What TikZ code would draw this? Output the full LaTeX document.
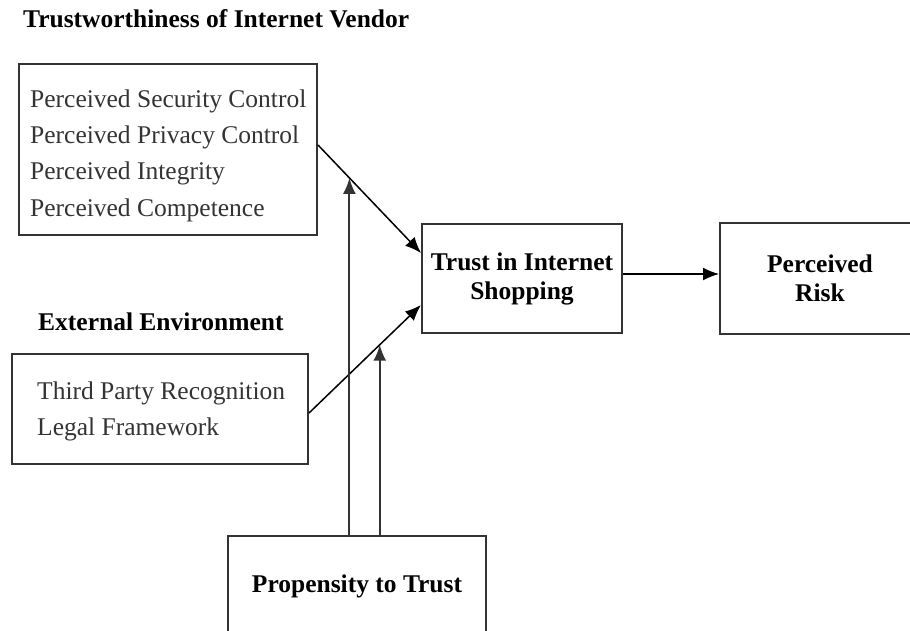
\documentclass[tikz,border=0pt]{standalone}
\usepackage{fontspec}
\setmainfont{Liberation Serif}
\usetikzlibrary{positioning,arrows.meta,calc}

\tikzset{
  box/.style={draw=black!80, line width=2pt, rectangle, inner sep=0pt, align=center,
    font=\fontsize{25.5}{29}\selectfont\bfseries},
  item/.style={inner sep=0pt, anchor=base west, text=black!80, font=\fontsize{25.5}{30}\selectfont},
  heading/.style={inner sep=0pt, anchor=base west, font=\fontsize{25.5}{30}\selectfont\bfseries},
  link/.style={-{Latex[length=16pt,width=13pt]}, line width=1.5pt},
  moderator/.style={-{Latex[length=16pt,width=13pt]}, line width=2pt, draw=black!80, fill=black!80},
}

\begin{document}
\begin{tikzpicture}[x=1pt,y=-1pt]
  \useasboundingbox (0,0) rectangle (910,631);
  \clip (0,0) rectangle (910,631);

  \node[heading] (vendortitle) at (23,28) {Trustworthiness of Internet Vendor};
  \node[box, minimum width=298pt, minimum height=171pt] (vendor) at (168,149.5) {};
  \node[item] (security) at (30,108) {Perceived Security Control};
  \node[item] (privacy) at (30,144) {Perceived Privacy Control};
  \node[item] (integrity) at (30,180) {Perceived Integrity};
  \node[item] (competence) at (30,216) {Perceived Competence};

  \node[heading] (exttitle) at (38,330) {External Environment};
  \node[box, minimum width=296pt, minimum height=110pt] (ext) at (160,409) {};
  \node[item] (recognition) at (37,399) {Third Party Recognition};
  \node[item] (legal) at (37,435) {Legal Framework};

  \node[box, minimum width=200pt, minimum height=109pt] (trust) at (522,278.5) {Trust in Internet\\Shopping};
  \node[box, minimum width=200pt, minimum height=110pt, right=96pt of trust] (risk) {Perceived\\Risk};
  \node[box, minimum width=258pt, minimum height=100pt, anchor=north] (prop) at (357,535) {Propensity to Trust};

  \coordinate (vout) at ([yshift=4.5pt]vendor.east);
  \coordinate (vin) at ([yshift=25.5pt]trust.west);
  \coordinate (eout) at ([yshift=-4pt]ext.east);
  \coordinate (ein) at ([yshift=-26.5pt]trust.west);

  \draw[link] (vout) -- (vin);
  \draw[link] (eout) -- (ein);
  \draw[link] ([yshift=4.5pt]trust.east) -- ([yshift=4.5pt]risk.west);

  \coordinate (vmid) at ($(vout)!0.305!(vin)$);
  \coordinate (emid) at ($(eout)!0.632!(ein)$);
  \draw[moderator] (prop.north -| vmid) -- (vmid);
  \draw[moderator] (prop.north -| emid) -- (emid);
\end{tikzpicture}
\end{document}
